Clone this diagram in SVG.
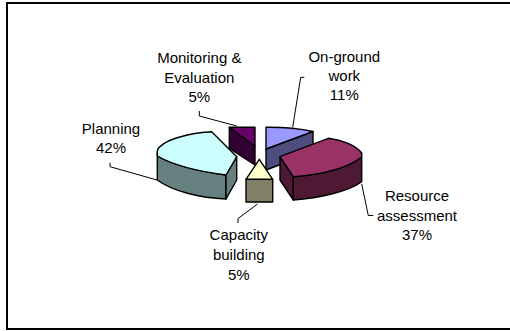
<svg xmlns="http://www.w3.org/2000/svg" width="510" height="331" viewBox="0 0 510 331">
<style>
.lbl{font-family:"Liberation Sans",Arial,sans-serif;font-size:15px;fill:#000;text-anchor:middle}
.edge{stroke:#000;stroke-width:1.4;stroke-linejoin:round}
.lead{fill:none;stroke:#000;stroke-width:1}
</style>
<rect x="0" y="0" width="510" height="331" fill="#fff"/>
<rect x="7" y="3" width="510" height="326" fill="#fff" stroke="#000" stroke-width="2"/>
<g id="slice-monitoring">
<path class="edge" fill="#330033" d="M229.3,127.3 L255,146 L255,165 L229.3,148.3 Z"/>
<path class="edge" fill="#660066" d="M229.3,127.3 L255,127.3 L255,146 Z"/>
</g>
<g id="slice-onground">
<path class="edge" fill="#4D4D80" d="M266,149 L313,131.5 L313,152 L266,170 Z"/>
<path class="edge" fill="#9999FF" d="M266,127.3 Q292,127 313,131.5 L266,149 Z"/>
</g>
<g id="slice-planning">
<path class="edge" fill="#668080" d="M157.3,153 L157.3,180 C172,191 200,198 226,199 L226,175 C203,172 175,166 157.3,156 Z"/>
<path class="edge" fill="#668080" d="M226,175 L236.7,156.7 L236.7,180 L226,199 Z"/>
<path class="edge" fill="#CCFFFF" d="M236.7,156.7 L211.7,131.7 C186,133 161,141 157.3,150.5 L157.3,156 C175,166 203,172 226,175 Z"/>
</g>
<g id="slice-resource">
<path class="edge" fill="#4D1933" d="M280,156.7 L293.3,176.7 L293.3,200 L280,180 Z"/>
<path class="edge" fill="#4D1933" d="M293.3,176.7 C315,175 345,170 361.7,157 L361.7,181.7 C348,192 318,198 293.3,200 Z"/>
<path class="edge" fill="#993366" d="M280,156.7 L328.3,138.3 C342,140 356,145 361.7,153 L361.7,157 C345,170 315,175 293.3,176.7 Z"/>
</g>
<g id="slice-capacity">
<path class="edge" fill="#808066" d="M246,179.3 L272.7,179.3 L272.7,202 L246,202 Z"/>
<path class="edge" fill="#FFFFCC" d="M259.3,159.3 L272.7,179.3 L246,179.3 Z"/>
</g>
<g id="connectors">
<path class="lead" d="M199.3,111 L199.3,116 L236.7,126"/>
<path class="lead" d="M110,162.7 L110,166.7 L157,180"/>
<path class="lead" d="M304.3,77.3 L300.7,77.3 L292.7,127.3"/>
<path class="lead" d="M361.7,184 L368.3,215.5 L373.3,215.5"/>
<path class="lead" d="M257.5,204 L238,218.5 L238,223"/>
</g>
<g id="label-monitoring">
<text class="lbl" x="199.3" y="63">Monitoring &amp;</text>
<text class="lbl" x="199.3" y="82.5">Evaluation</text>
<text class="lbl" x="199.3" y="102">5%</text>
</g>
<g id="label-planning">
<text class="lbl" x="111" y="133.5">Planning</text>
<text class="lbl" x="111" y="153">42%</text>
</g>
<g id="label-onground">
<text class="lbl" x="344.3" y="61.7">On-ground</text>
<text class="lbl" x="344.3" y="81">work</text>
<text class="lbl" x="344.3" y="100.3">11%</text>
</g>
<g id="label-resource">
<text class="lbl" x="417" y="201">Resource</text>
<text class="lbl" x="417" y="220.7">assessment</text>
<text class="lbl" x="417" y="240.3">37%</text>
</g>
<g id="label-capacity">
<text class="lbl" x="238.8" y="240">Capacity</text>
<text class="lbl" x="238.8" y="260">building</text>
<text class="lbl" x="238.8" y="280">5%</text>
</g>
</svg>
